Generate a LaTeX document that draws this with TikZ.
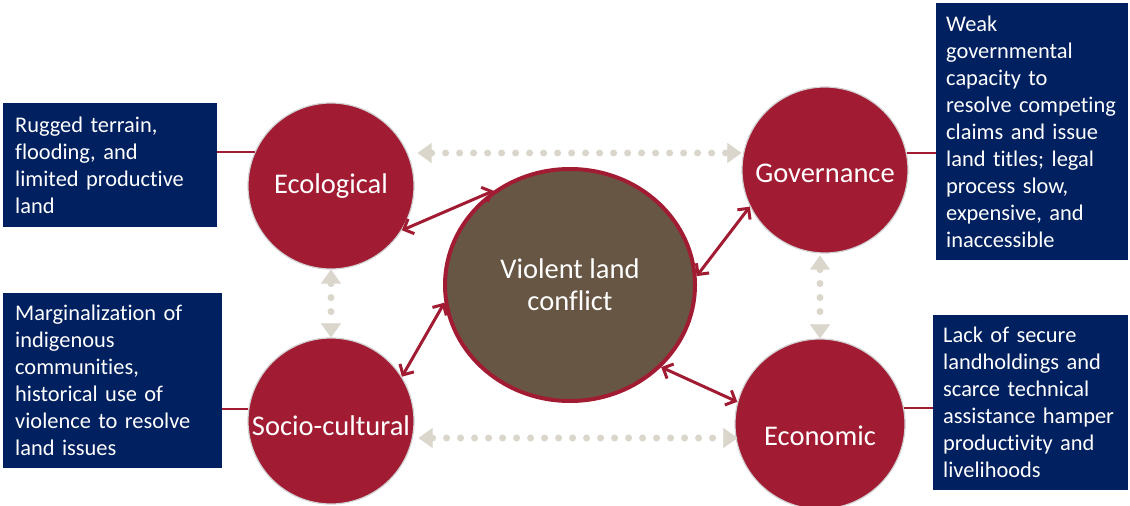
\documentclass[tikz,border=0pt]{standalone}
\usepackage{fontspec}
\setmainfont{Carlito}[Ligatures=NoCommon]
\usetikzlibrary{arrows.meta,shapes.geometric}
\definecolor{weinrot}{HTML}{A11C33}
\definecolor{braun}{HTML}{685645}
\definecolor{marine}{HTML}{002060}
\definecolor{grau}{HTML}{DAD6CC}
\newcommand{\tiefer}[2]{\raisebox{-#1}[0pt][0pt]{#2}}
\tikzset{
  kreis/.style={circle, fill=weinrot, draw=black!18, line width=1.2pt, text=white,
    inner sep=0pt, minimum size=166pt, font=\fontsize{28.5}{32}\selectfont},
  kasten/.style={rectangle, fill=marine, text=white, anchor=north west, align=left,
    inner xsep=12pt, inner ysep=0pt, font=\fontsize{22.4}{27}\selectfont},
  punkte/.style={grau, line width=7pt, line cap=round, dash pattern=on 0pt off 14pt,
    {Triangle[length=14pt,width=20pt,line width=0.1pt]}-{Triangle[length=14pt,width=20pt,line width=0.1pt]}},
  pfeil/.style={weinrot, line width=3pt,
    {Straight Barb[length=8pt,width=16pt]}-{Straight Barb[length=8pt,width=16pt]}},
  linie/.style={weinrot, line width=2pt}
}
\begin{document}
\begin{tikzpicture}[x=1pt,y=-1pt]
  \useasboundingbox (0,0) rectangle (1130,506);
  % die Kreise
  \node[kreis] (eco) at (331,186) {Ecological};
  \node[kreis] (soc) at (331,421) {\tiefer{14pt}{Socio-cultural}};
  \node[kreis] (gov) at (825,170) {\tiefer{12pt}{Governance}};
  \node[kreis, minimum size=170pt] (econ) at (820,424) {\tiefer{21pt}{Economic}};
  \node[kreis, ellipse, fill=braun, draw=weinrot, line width=4pt, align=center,
    minimum width=250pt, minimum height=232pt] (vlc) at (570,285) {Violent land\\conflict};
  % die Kaesten
  \node[kasten, text width=190pt, minimum height=124pt] (b1) at (3,103)
    {Rugged terrain,\\flooding, and\\limited productive\\land};
  \node[kasten, text width=195pt, minimum height=175pt] (b2) at (3,293)
    {Marginalization of\\indigenous\\communities,\\historical use of\\violence to resolve\\land issues};
  \node[kasten, inner xsep=10pt, text width=172pt, minimum height=257pt] (b3) at (936,3)
    {Weak\\governmental\\capacity to\\resolve competing\\claims and issue\\land titles; legal\\process slow,\\expensive, and\\inaccessible};
  \node[kasten, inner xsep=10pt, text width=175pt, minimum height=175pt] (b4) at (933,315)
    {Lack of secure\\landholdings and\\scarce technical\\assistance hamper\\productivity and\\livelihoods};
  % Kasten zu Kreis
  \draw[linie] (eco.156 -| b1.east) -- (eco.156);
  \draw[linie] (soc.172 -| b2.east) -- (soc.172);
  \draw[linie] (gov.12) -- (gov.12 -| b3.west);
  \draw[linie] (econ.11) -- (econ.11 -| b4.west);
  % gepunktete Pfeile
  \coordinate (t1) at ([yshift=33pt]eco.east);
  \coordinate (t2) at ([yshift=-17pt]soc.east);
  \draw[punkte] ([xshift=3pt]t1) -- (t1 -| gov.west);
  \draw[punkte] ([xshift=4pt]t2) -- ([xshift=3pt]t2 -| econ.west);
  \draw[punkte] (eco.south) -- (soc.north);
  \draw[punkte] ([yshift=-2pt]gov.south -| econ.north) -- (econ.north);
  % Pfeile zur Mitte
  \draw[pfeil] (eco.-32) -- (vlc.129);
  \draw[pfeil] (soc.32) -- (vlc.188);
  \draw[pfeil] (gov.206) -- (vlc.4);
  \draw[pfeil] (econ.165) -- (vlc.-42);
\end{tikzpicture}
\end{document}
